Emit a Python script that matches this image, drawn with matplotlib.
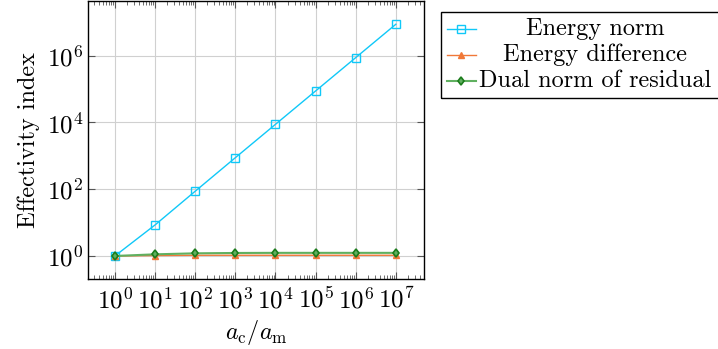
import numpy as np
import matplotlib
matplotlib.use("Agg")
import matplotlib.pyplot as plt
from matplotlib.lines import Line2D
from matplotlib.patches import Rectangle
from matplotlib.ticker import LogLocator, NullFormatter, NullLocator

plt.rcParams['font.family'] = 'serif'
plt.rcParams['font.serif'] = ['cmr10', 'DejaVu Serif']
plt.rcParams['mathtext.fontset'] = 'cm'
plt.rcParams['axes.formatter.use_mathtext'] = True

# data
ratio = [1e0, 1e1, 1e2, 1e3, 1e4, 1e5, 1e6, 1e7]
energy_norm = [1.0, 8.5, 87, 880, 8800, 88000, 880000, 8.8e6]
energy_diff = [1.0, 1.03, 1.05, 1.05, 1.05, 1.05, 1.05, 1.05]
dual_norm = [1.0, 1.12, 1.2, 1.23, 1.24, 1.24, 1.24, 1.24]

labels = ["Energy norm", "Energy difference", "Dual norm of residual"]
cyan = "#10c8f8"
orange = "#f07838"
green_line = "#60b060"
green_dark = "#1c7c1c"

fs = 17.5
fig = plt.figure(figsize=(7.18, 3.49), dpi=100)
ax = fig.add_axes([88/718, 1-279/349, (424-88)/718, (279-1)/349])

ax.plot(ratio, energy_norm, color=cyan, lw=1, marker='s', ms=6,
        mfc='none', mec=cyan, mew=1, zorder=3)
ax.plot(ratio, energy_diff, color=orange, lw=1, marker='^', ms=5,
        mfc=orange, mec=orange, zorder=3)
ax.plot(ratio, dual_norm, color=green_line, lw=1.5, marker='d', ms=4.5,
        mfc=green_line, mec=green_dark, mew=1.2, zorder=4)

ax.set_xscale('log')
ax.set_yscale('log')
ax.set_xlim(10**-0.67, 10**7.7)
ax.set_ylim(10**-0.69, 10**7.64)
ax.set_xticks(ratio)
ax.xaxis.set_minor_locator(LogLocator(base=10, subs=np.arange(2, 10), numticks=50))
ax.xaxis.set_minor_formatter(NullFormatter())
ax.set_yticks([1e0, 1e2, 1e4, 1e6])
ax.yaxis.set_minor_locator(NullLocator())

ax.grid(True, which='major', color='#d0d0d0', lw=0.8, zorder=0)
ax.tick_params(which='both', direction='in', top=True, right=True,
               labelsize=18, colors='#555555', labelcolor='black')
ax.tick_params(which='major', length=5, width=0.8)
ax.tick_params(which='minor', length=3, width=0.6)
ax.tick_params(axis='x', pad=6)
for s in ax.spines.values():
    s.set_linewidth(1.0)

ax.set_xlabel(r"$a_\mathrm{c}/a_\mathrm{m}$", fontsize=fs, labelpad=3)
ax.set_ylabel("Effectivity index", fontsize=fs, labelpad=5)

# legend drawn by hand so text is centered like pgfplots
box = Rectangle((441/718, 1-98/349), (725-441)/718, (98-11.5)/349,
                transform=fig.transFigure, fill=False, ec='black', lw=1.0)
fig.patches.append(box)
rows = [29, 55, 81]
styles = [
    dict(color=cyan, marker='s', ms=6, mfc='none', mec=cyan, lw=1),
    dict(color=orange, marker='^', ms=5, mfc=orange, mec=orange, lw=1),
    dict(color=green_line, marker='d', ms=4.5, mfc=green_line, mec=green_dark, mew=1.2, lw=1.5),
]
for yy, lab, st in zip(rows, labels, styles):
    yf = 1 - yy/349
    fig.lines.append(Line2D([447/718, 476/718], [yf, yf], transform=fig.transFigure,
                            markevery=[], **st))
    fig.lines.append(Line2D([461.5/718], [yf], transform=fig.transFigure,
                            linestyle='none', **{k: v for k, v in st.items() if k not in ('lw', 'color')}))
    fig.text(595/718, yf, lab, ha='center', va='center', fontsize=fs)

fig.savefig("out.png", dpi=100)
